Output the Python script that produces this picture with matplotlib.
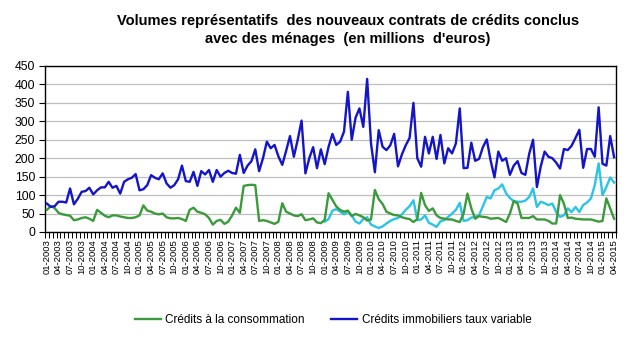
import matplotlib
matplotlib.use("Agg")
import matplotlib.pyplot as plt
import numpy as np

# ---- data (monthly, 01-2003 .. 04-2015) ----
years = list(range(2003, 2016))
months = [f"{m:02d}-{y}" for y in years for m in range(1, 13)][:148]

credits_conso = [60, 70, 65, 52, 48, 46, 44, 32, 34, 38, 40, 36, 30, 60, 52, 44, 40, 45, 45, 42,
                 40, 38, 38, 40, 45, 72, 58, 55, 50, 48, 50, 40, 37, 37, 38, 35, 30, 60, 66, 55,
                 52, 48, 38, 20, 30, 33, 22, 28, 45, 66, 52, 125, 127, 128, 127, 30, 32, 30, 26, 22,
                 28, 78, 55, 50, 45, 43, 48, 32, 34, 37, 26, 24, 33, 105, 87, 69, 60, 55, 58, 43,
                 49, 45, 40, 31, 34, 114, 89, 76, 55, 50, 46, 45, 40, 37, 35, 27, 35, 106, 73, 57,
                 64, 45, 38, 36, 34, 34, 30, 27, 50, 104, 64, 36, 43, 41, 40, 36, 37, 38, 33, 27,
                 50, 84, 77, 38, 38, 38, 43, 34, 34, 34, 30, 23, 23, 100, 77, 38, 39, 36, 35, 34,
                 34, 34, 31, 28, 30, 91, 64, 36]

credits_immo_var = [77, 68, 70, 82, 82, 80, 118, 75, 90, 109, 111, 120, 102, 113, 121, 121, 136, 120, 125, 104,
                    136, 143, 147, 157, 113, 116, 127, 154, 147, 143, 159, 132, 120, 127, 143, 180, 138, 136, 163, 125,
                    165, 156, 168, 136, 168, 150, 160, 166, 160, 158, 209, 160, 180, 192, 224, 165, 200, 245, 227, 236,
                    205, 182, 220, 260, 204, 250, 302, 159, 200, 230, 173, 224, 184, 231, 266, 236, 245, 272, 380, 250,
                    310, 335, 285, 415, 240, 162, 276, 231, 222, 235, 266, 178, 210, 235, 255, 350, 200, 177, 258, 213,
                    258, 198, 263, 186, 227, 213, 240, 335, 173, 174, 242, 193, 198, 230, 251, 194, 148, 218, 193, 200,
                    155, 180, 192, 160, 155, 212, 250, 122, 178, 218, 204, 200, 188, 172, 225, 222, 234, 255, 277, 174,
                    225, 225, 204, 338, 185, 180, 260, 203]

credits_immo_fixe = [np.nan] * 72 + [28, 35, 58, 62, 55, 48, 55, 45, 28, 23, 35, 40, 20, 15, 11, 15, 23, 30, 35, 38,
                                     48, 60, 70, 86, 32, 34, 45, 25, 20, 14, 29, 32, 41, 50, 60, 79, 30, 32, 39, 41,
                                     45, 70, 95, 91, 113, 118, 129, 105, 92, 84, 82, 82, 85, 95, 118, 68, 82, 78, 73, 77,
                                     54, 41, 45, 64, 54, 68, 54, 73, 80, 91, 127, 186, 100, 122, 148, 134]

y_ticks = list(range(0, 451, 50))

plt.rcParams['font.family'] = ['Liberation Sans', 'DejaVu Sans']

fig = plt.figure(figsize=(6.28, 3.63), dpi=100)
ax = fig.add_axes([45/628, 1-232/363, (616-45)/628, (232-66)/363])

x = np.arange(len(months))
ax.plot(x, credits_conso, color='#3b9a3b', lw=1.7, label='Crédits à la consommation', zorder=3)
ax.plot(x, credits_immo_var, color='#1414c8', lw=1.7, label='Crédits immobiliers taux variable', zorder=4)
ax.plot(x, credits_immo_fixe, color='#2cc3e8', lw=1.7, zorder=2)

ax.set_xlim(-0.5, len(months) - 0.5)
ax.set_ylim(0, 450)
ax.set_yticks(y_ticks)
ax.set_yticklabels([str(v) for v in y_ticks], fontsize=8.8)
ax.yaxis.grid(True, color='#bfbfbf', lw=0.9)
ax.set_axisbelow(True)

lab_idx = list(range(0, len(months), 3))
ax.set_xticks(lab_idx)
ax.set_xticklabels([months[i] for i in lab_idx], rotation=90, fontsize=6.8)
ax.tick_params(axis='x', which='major', length=0, pad=5)
ax.set_xticks(np.arange(-0.5, len(months), 1), minor=True)
ax.tick_params(axis='x', which='minor', length=4, width=0.7, direction='out')
ax.tick_params(axis='y', length=4, width=0.8, direction='out', pad=3)

for s in ax.spines.values():
    s.set_color('black')
    s.set_linewidth(1.0)

fig.text(348/628, 1-30/363,
         "Volumes représentatifs  des nouveaux contrats de crédits conclus\navec des ménages  (en millions  d'euros)",
         ha='center', va='center', fontsize=10.5, fontweight='bold', linespacing=1.35)

leg = fig.legend(loc='center', bbox_to_anchor=(333/628, 1-320/363), ncol=2, frameon=False,
                 fontsize=8.5, handlelength=2.2, columnspacing=2.2, handletextpad=0.4)

fig.savefig('out.png', dpi=100)
